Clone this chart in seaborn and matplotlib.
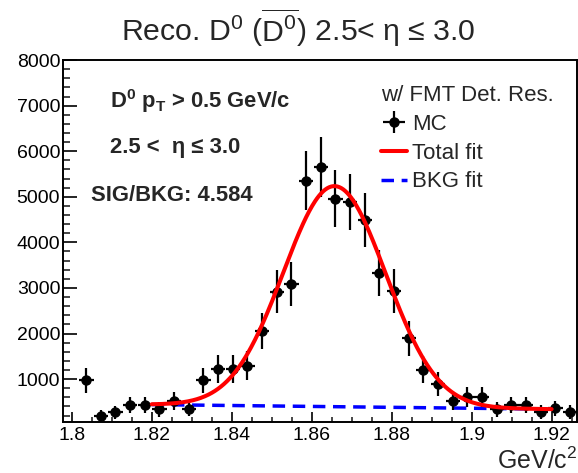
import numpy as np
import pandas as pd
import matplotlib
matplotlib.use("Agg")
import matplotlib.pyplot as plt
import seaborn as sns
from matplotlib.ticker import MultipleLocator, FixedLocator

# Invariant-mass histogram (bin centres in GeV/c^2), counts and errors
mass = [1.8036, 1.8073, 1.8109, 1.8146, 1.8183, 1.8219, 1.8256, 1.8293,
        1.8329, 1.8366, 1.8403, 1.8439, 1.8476, 1.8513, 1.8549, 1.8586,
        1.8623, 1.8659, 1.8696, 1.8733, 1.8769, 1.8806, 1.8843, 1.8879,
        1.8916, 1.8953, 1.8989, 1.9026, 1.9063, 1.9099, 1.9136, 1.9173,
        1.9209, 1.9246]
counts = [970, 190, 270, 430, 430, 340, 520, 350,
          970, 1220, 1220, 1290, 2060, 2920, 3090, 5350,
          5660, 4960, 4880, 4490, 3320, 2930, 1900, 1210,
          900, 520, 600, 600, 340, 430, 430, 280,
          360, 280]
errors = [274, 121, 145, 182, 182, 162, 201, 165,
          274, 307, 307, 316, 399, 476, 489, 644,
          662, 620, 615, 590, 507, 476, 384, 306,
          264, 201, 216, 216, 162, 182, 182, 147,
          167, 147]
half_bin = 0.00183

# Fit result: Gaussian signal on a linear background
fit_range = (1.82, 1.92)
sig_amp, sig_mean, sig_sigma = 4840.0, 1.8657, 0.0128
bkg_p0, bkg_slope = 440.0, -1000.0  # bkg = p0 + slope*(m - 1.82)

x_ticks = [1.8, 1.82, 1.84, 1.86, 1.88, 1.9, 1.92]
x_tick_labels = ["1.8", "1.82", "1.84", "1.86", "1.88", "1.9", "1.92"]
y_ticks = [1000, 2000, 3000, 4000, 5000, 6000, 7000, 8000]

sns.set_theme(style="ticks")
plt.rcParams["font.family"] = ["Liberation Sans", "DejaVu Sans"]
plt.rcParams["mathtext.fontset"] = "custom"
plt.rcParams["mathtext.rm"] = "Liberation Sans"
plt.rcParams["mathtext.it"] = "Liberation Sans:italic"
plt.rcParams["mathtext.bf"] = "Liberation Sans:bold"

fig = plt.figure(figsize=(5.78, 4.73), dpi=100)
ax = fig.add_axes([0.109, 0.108, 0.889, 0.765])

m_fit = np.linspace(fit_range[0], fit_range[1], 400)
bkg = bkg_p0 + bkg_slope * (m_fit - fit_range[0])
total = bkg + sig_amp * np.exp(-0.5 * ((m_fit - sig_mean) / sig_sigma) ** 2)
curves = pd.DataFrame({"m": m_fit, "total": total, "bkg": bkg})

h_mc = ax.errorbar(mass, counts, yerr=errors, xerr=half_bin, fmt="o",
                   color="black", ms=6.5, elinewidth=1.6, capsize=0,
                   label="MC", zorder=3)
sns.lineplot(data=curves, x="m", y="total", ax=ax, color="red", lw=2.9,
             label="Total fit", zorder=4)
h_tot = ax.lines[-1]
sns.lineplot(data=curves, x="m", y="bkg", ax=ax, color="blue", lw=2.5,
             label="BKG fit", zorder=2)
h_bkg = ax.lines[-1]
h_bkg.set_linestyle((0, (3.6, 2.2)))

ax.set_xlim(1.7978, 1.9263)
ax.set_ylim(60, 8000)
ax.xaxis.set_major_locator(FixedLocator(x_ticks))
ax.set_xticklabels(x_tick_labels)
ax.xaxis.set_minor_locator(MultipleLocator(0.005))
ax.yaxis.set_major_locator(FixedLocator(y_ticks))
ax.yaxis.set_minor_locator(MultipleLocator(200))
ax.tick_params(axis="x", which="major", direction="in", length=7, width=1.2,
               labelsize=14, pad=4, top=False, colors="black")
ax.tick_params(axis="x", which="minor", direction="in", length=3.6, width=1.2,
               top=False)
ax.tick_params(axis="y", which="major", direction="in", length=10, width=1.2,
               labelsize=14, pad=2, right=False, colors="black")
ax.tick_params(axis="y", which="minor", direction="in", length=5, width=1.2,
               right=False)
for s in ax.spines.values():
    s.set_linewidth(1.4)
    s.set_color("black")
ax.set_xlabel("")
ax.set_ylabel("")
fig.text(0.999, 1 - 469 / 473, "GeV/c$^2$", ha="right", va="baseline",
         fontsize=18)

fig.text(0.516, 1 - 41 / 473,
         r"Reco. D$^0$ ($\overline{\mathrm{D}^0}$) 2.5< η ≤ 3.0",
         ha="center", va="baseline", fontsize=21.8)

txt_kw = dict(fontsize=15.8, fontweight="bold", va="baseline", ha="left")
fig.text(110 / 578, 1 - 108 / 473,
         r"D$^{\mathbf{0}}$ p$_{\mathbf{T}}$ > 0.5 GeV/c", **txt_kw)
fig.text(110 / 578, 1 - 153 / 473, "2.5 <  η ≤ 3.0", **txt_kw)
fig.text(91 / 578, 1 - 201 / 473, "SIG/BKG: 4.584", **txt_kw)

ax.legend(handles=[h_mc, h_tot, h_bkg], labels=["MC", "Total fit", "BKG fit"],
          loc="upper left", bbox_to_anchor=(381 / 578, 1 - 85 / 473),
          bbox_transform=fig.transFigure, frameon=False, fontsize=16,
          title="w/ FMT Det. Res.", title_fontsize=16, alignment="left",
          handlelength=1.15, handletextpad=0.25, labelspacing=0.35,
          borderpad=0, borderaxespad=0)

fig.savefig("out.png", dpi=100, facecolor="white")
